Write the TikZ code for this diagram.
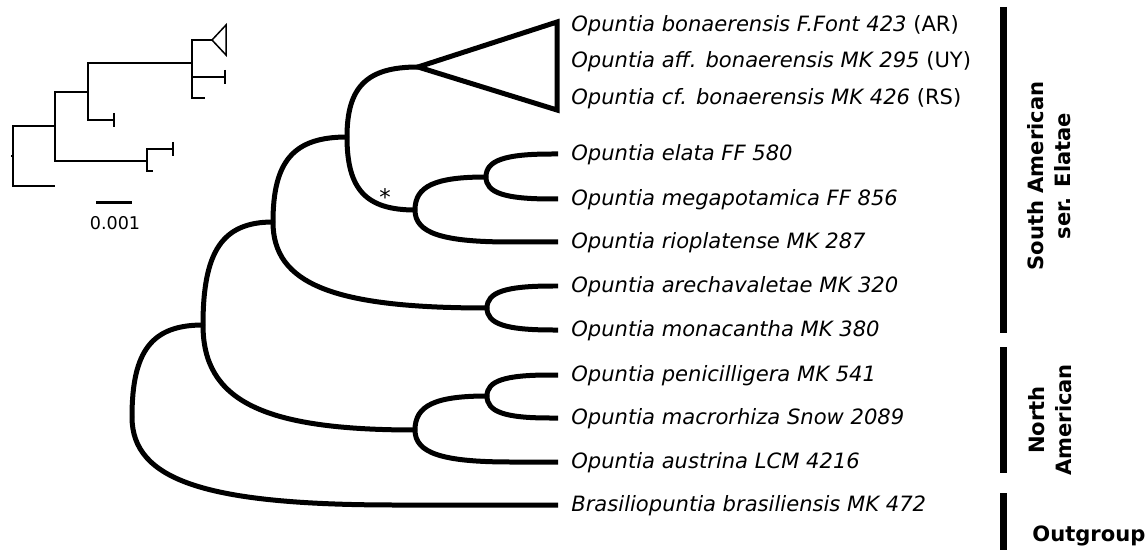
\documentclass[tikz,border=0pt]{standalone}
\usepackage{fontspec}
\setmainfont{DejaVu Sans}
\usetikzlibrary{calc}
\tikzset{
  branch/.style={line width=0.1cm},
  thinbranch/.style={line width=0.03cm},
  taxon/.style={anchor=west, inner xsep=0.26cm, inner ysep=0pt, text height=0.73em, text depth=0pt, font=\fontsize{12}{14}\selectfont},
  groupbar/.style={line width=0.14cm},
  grouplabel/.style={font=\fontsize{12}{15}\selectfont\bfseries, align=center},
}
% curved elbow from a parent to a child
\newcommand{\clade}[3]{\draw[branch] (#1) .. controls ($(#1)!0.72!(#1 |- #2)$) and ($($(#1 |- #2)+(#3,0)$)!0.72!(#1 |- #2)$) .. ($(#1 |- #2)+(#3,0)$) -- (#2);}

\begin{document}
\begin{tikzpicture}[x=0.02cm, y=-0.02cm]
\useasboundingbox (0,0) rectangle (1148,550);

% tips
\node[taxon] (bonAR) at (558,25) {\textit{Opuntia bonaerensis F.Font 423} (AR)};
\node[taxon] (bonUY) at (558,61) {\textit{Opuntia aff. bonaerensis MK 295} (UY)};
\node[taxon] (bonRS) at (558,98) {\textit{Opuntia cf. bonaerensis MK 426} (RS)};
\node[taxon] (elata) at (558,154) {\textit{Opuntia elata FF 580}};
\node[taxon] (mega) at (558,199) {\textit{Opuntia megapotamica FF 856}};
\node[taxon] (rio) at (558,242) {\textit{Opuntia rioplatense MK 287}};
\node[taxon] (arech) at (558,286) {\textit{Opuntia arechavaletae MK 320}};
\node[taxon] (mona) at (558,330) {\textit{Opuntia monacantha MK 380}};
\node[taxon] (peni) at (558,375) {\textit{Opuntia penicilligera MK 541}};
\node[taxon] (macro) at (558,418) {\textit{Opuntia macrorhiza Snow 2089}};
\node[taxon] (aust) at (558,462) {\textit{Opuntia austrina LCM 4216}};
\node[taxon] (brasil) at (558,505) {\textit{Brasiliopuntia brasiliensis MK 472}};

% inner nodes
\coordinate (bon) at (418,67);
\coordinate (nEM) at (486,177);
\coordinate (nRio) at (415,210);
\coordinate (nSA1) at (347,137);
\coordinate (nAM) at (487,308);
\coordinate (nSA) at (273,222);
\coordinate (nPM) at (487,396);
\coordinate (nNA) at (415,430);
\coordinate (nIn) at (203,325);
\coordinate (root) at (132,417);

% collapsed clade
\draw[branch, line join=miter] (bon) -- (557,22) -- (557,110) -- cycle;

\clade{root}{nIn}{71}
\clade{root}{brasil.west}{264}
\clade{nIn}{nSA}{70}
\clade{nIn}{nNA}{212}
\clade{nSA}{nSA1}{74}
\clade{nSA}{nAM}{214}
\clade{nSA1}{bon}{71}
\clade{nSA1}{nRio}{68}
\clade{nRio}{nEM}{71}
\clade{nRio}{rio.west}{96}
\clade{nEM}{elata.west}{66}
\clade{nEM}{mega.west}{66}
\clade{nAM}{arech.west}{66}
\clade{nAM}{mona.west}{66}
\clade{nNA}{nPM}{72}
\clade{nNA}{aust.west}{96}
\clade{nPM}{peni.west}{63}
\clade{nPM}{macro.west}{63}
\draw[branch] (root) -- ++(-2,0);

\node[font=\fontsize{13}{15}\selectfont, anchor=base, inner sep=0pt] (star) at (385,206) {*};

% groups
\draw[groupbar] (1003,7) -- (1003,333);
\draw[groupbar] (1003,347) -- (1003,473);
\draw[groupbar] (1003,493) -- (1003,550);
\node[grouplabel, rotate=90] (sam) at (1049,176) {South American\\ser. Elatae};
\node[grouplabel, rotate=90] (nam) at (1050,420) {North\\American};
\node[grouplabel, anchor=west, text height=0.73em, text depth=0pt, inner xsep=0pt] (outg) at (1032,535) {Outgroup};

% inset tree
\coordinate (iR) at (13,156);
\coordinate (iA) at (55,126);
\coordinate (iO) at (55,186);
\coordinate (iB) at (88,92);
\coordinate (iD) at (147,161);
\coordinate (iC) at (192,63);
\coordinate (iB2) at (114,120);
\coordinate (iD1) at (173,149);
\coordinate (iD2) at (153,171);
\coordinate (iCt) at (212,40);
\coordinate (iC2) at (225,77);
\coordinate (iC3) at (205,98);
\draw[thinbranch] (iR) -- ++(-2,0);
\draw[thinbranch] (iR) |- (iA);
\draw[thinbranch] (iR) |- (iO);
\draw[thinbranch] (iA) |- (iB);
\draw[thinbranch] (iA) |- (iD);
\draw[thinbranch] (iB) |- (iC);
\draw[thinbranch] (iB) |- (iB2);
\draw[thinbranch] (iD) |- (iD1);
\draw[thinbranch] (iD) |- (iD2);
\draw[thinbranch] (iC) |- (iCt);
\draw[thinbranch] (iC) |- (iC2);
\draw[thinbranch] (iC) |- (iC3);
\draw[thinbranch] (iCt) -- (226,25) -- (226,55) -- cycle;
\foreach \t in {iB2,iD1,iC2}
  \draw[thinbranch] ($(\t)+(0,-7)$) -- ($(\t)+(0,7)$);
\draw[line width=0.06cm] (96,203) coordinate (sb1) -- (132,203) coordinate (sb2);
\node[font=\fontsize{10}{12}\selectfont] (sbl) at (115,223) {0.001};
\end{tikzpicture}
\end{document}
